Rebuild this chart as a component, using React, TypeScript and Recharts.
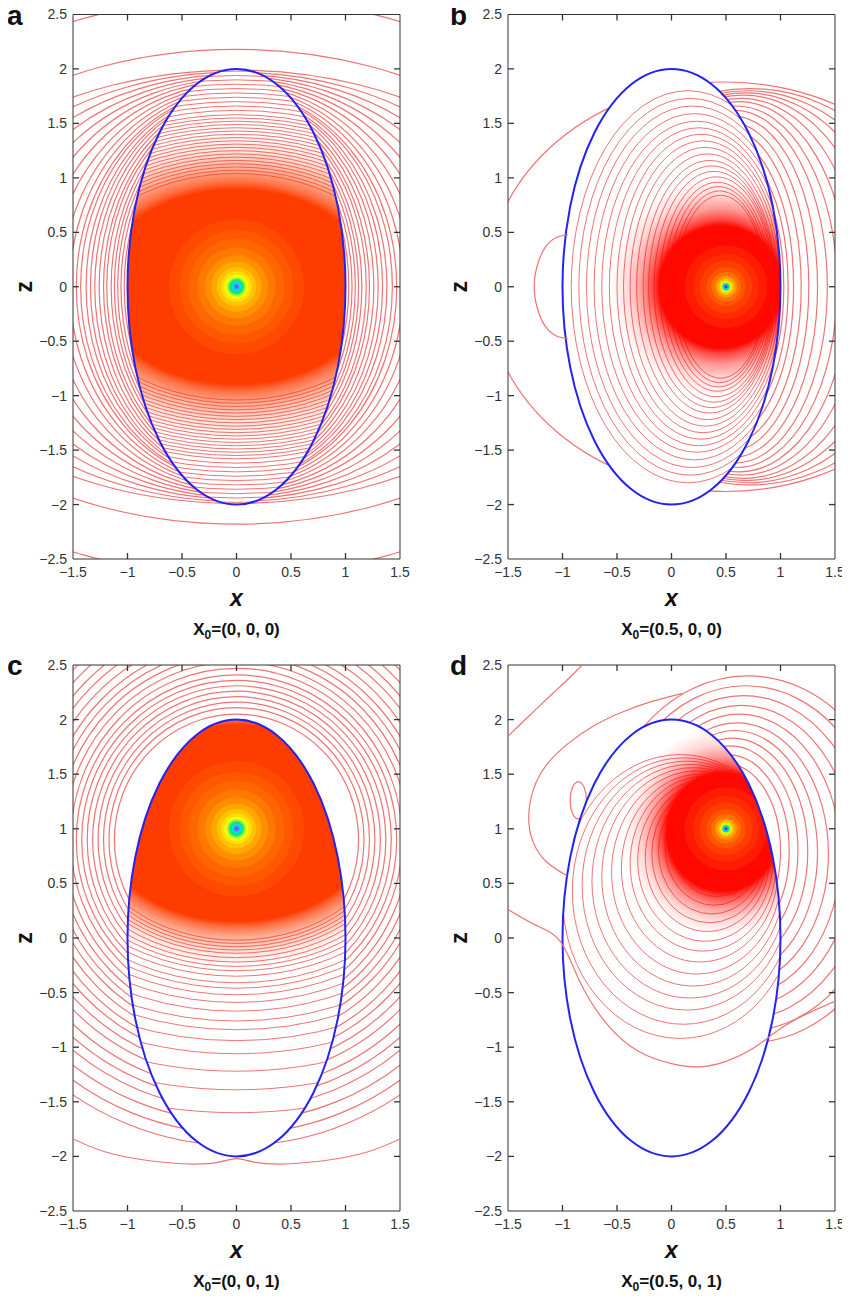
import React from 'react';
import { ScatterChart, Scatter, XAxis, YAxis, ReferenceArea, Label } from 'recharts';

type Quad = [number, number, number, number]; // centre x, centre z, half-width, half-height
type Pair = [number, number];
type Ring = [number, string];
type Pt = [number, number];

const xTicks = [-1.5, -1, -0.5, 0, 0.5, 1, 1.5];
const zTicks = [-2.5, -2, -1.5, -1, -0.5, 0, 0.5, 1, 1.5, 2, 2.5];
const xInnerTicks = [-1, -0.5, 0, 0.5, 1];
const zInnerTicks = [-2, -1.5, -1, -0.5, 0, 0.5, 1, 1.5, 2];
const xDomain: [number, number] = [-1.5, 1.5];
const zDomain: [number, number] = [-2.5, 2.5];

// the inclusion boundary (blue)
const inclusion: Quad = [0, 0, 1, 2];
const plotBox: Quad = [0, 0, 1.5, 2.5];

const sourceA: Pt = [0, 0];
const sourceB: Pt = [0.5, 0];
const sourceC: Pt = [0, 1];
const sourceD: Pt = [0.5, 1];

// ---- panel a : contours outside / inside the inclusion, [rx, rz]
const aOuter: Pair[] = [
  [1.03, 1.55], [1.06, 1.58], [1.09, 1.61], [1.12, 1.63], [1.15, 1.65], [1.19, 1.67], [1.22, 1.69],
  [1.26, 1.71], [1.3, 1.73], [1.34, 1.75], [1.38, 1.76], [1.43, 1.78], [1.47, 1.79], [1.53, 1.81],
  [1.6, 1.83], [1.69, 1.85], [1.8, 1.87], [1.93, 1.89], [2.08, 1.91], [2.26, 1.93], [2.48, 1.95],
  [2.75, 1.97], [3.1, 1.99], [3.3, 2.18], [3.8, 2.65],
];
const aInner: Pair[] = [
  [2.87, 1.98], [2.81, 1.94], [2.76, 1.9], [2.7, 1.86], [2.64, 1.82], [2.58, 1.78], [2.52, 1.74],
  [2.47, 1.7], [2.41, 1.66], [2.35, 1.62], [2.29, 1.58], [2.25, 1.55], [2.2, 1.52], [2.16, 1.49],
  [2.12, 1.46], [2.07, 1.43], [2.03, 1.4], [1.99, 1.37], [1.94, 1.34], [1.9, 1.31], [1.86, 1.28],
  [1.81, 1.25], [1.77, 1.22], [1.73, 1.19], [1.68, 1.16], [1.64, 1.13], [1.6, 1.1], [1.55, 1.07], [1.51, 1.04],
];
const aHalo: Quad = [0, 0, 2.0, 1.42];
const aCore = 0.63; // fraction of the halo that is saturated

// ---- panel c
const cOuterCentre: Pt = [0, 0.9];
const cOuter: Pair[] = [
  [1.12, 1.15], [1.17, 1.21], [1.22, 1.26], [1.27, 1.31], [1.32, 1.36], [1.37, 1.41], [1.42, 1.46],
  [1.47, 1.51], [1.52, 1.57], [1.58, 1.63], [1.64, 1.69], [1.7, 1.75], [1.76, 1.81], [1.83, 1.88],
  [1.9, 1.96], [1.97, 2.03], [2.05, 2.11], [2.13, 2.19], [2.22, 2.29], [2.31, 2.38], [2.4, 2.47],
  [2.5, 2.58], [2.61, 2.69], [2.72, 2.8],
];
const cInner: Pair[] = [
  [3.51, 2.6], [3.23, 2.39], [3.0, 2.22], [2.78, 2.06], [2.62, 1.94], [2.48, 1.84], [2.38, 1.76],
  [2.25, 1.67], [2.15, 1.59], [2.05, 1.52], [1.97, 1.46], [1.9, 1.41], [1.82, 1.35], [1.76, 1.3],
  [1.7, 1.26], [1.65, 1.22], [1.59, 1.18], [1.54, 1.14], [1.5, 1.11], [1.46, 1.08], [1.42, 1.05], [1.38, 1.02],
];
const cHalo: Quad = [0, 1.05, 1.85, 1.32];
const cCore = 0.68;
const cCusp: Pt[] = [
  [-1.5, -1.84], [-1.2, -1.96], [-0.8, -2.04], [-0.4, -2.07], [-0.15, -2.05], [0, -2.02],
  [0.15, -2.05], [0.4, -2.07], [0.8, -2.04], [1.2, -1.96], [1.5, -1.84],
];

// ---- panel b : [cx, cz, rx, rz]
const bOuter: Quad[] = [
  [0.5, 0, 0.53, 1.22], [0.5, 0, 0.57, 1.3], [0.5, 0, 0.62, 1.38], [0.52, 0, 0.67, 1.45], [0.54, 0, 0.72, 1.51],
  [0.56, 0, 0.78, 1.57], [0.58, 0, 0.85, 1.62], [0.6, 0, 0.92, 1.66], [0.62, 0, 1.0, 1.7], [0.64, 0, 1.1, 1.73],
  [0.66, 0, 1.22, 1.76], [0.68, 0, 1.36, 1.78], [0.7, 0, 1.52, 1.8], [0.72, 0, 1.7, 1.82], [0.5, 0, 2.2, 1.88],
];
const bInner: Quad[] = [
  [0.15, 0, 1.07, 1.8], [0.17, 0, 1.02, 1.73], [0.19, 0, 0.97, 1.66], [0.21, 0, 0.92, 1.59], [0.23, 0, 0.87, 1.52],
  [0.25, 0, 0.82, 1.46], [0.27, 0, 0.77, 1.4], [0.29, 0, 0.73, 1.34], [0.31, 0, 0.69, 1.28], [0.33, 0, 0.65, 1.22],
  [0.35, 0, 0.61, 1.16], [0.37, 0, 0.58, 1.11], [0.39, 0, 0.55, 1.06], [0.41, 0, 0.52, 1.01], [0.42, 0, 0.49, 0.96],
  [0.43, 0, 0.46, 0.92], [0.44, 0, 0.43, 0.88], [0.45, 0, 0.41, 0.84],
];
const bHalo: Quad = [0.45, 0, 1.0, 1.0];
const bCore = 0.56;
const bLoop: Pt[] = [
  [-0.95, 0.48], [-1.06, 0.45], [-1.16, 0.36], [-1.23, 0.2], [-1.26, 0], [-1.23, -0.2], [-1.16, -0.36], [-1.06, -0.45], [-0.95, -0.48],
];

// ---- panel d
const dOuter: Quad[] = [
  [0.5, 0.8, 0.5, 0.8], [0.52, 0.8, 0.56, 0.88], [0.54, 0.8, 0.62, 0.96], [0.56, 0.79, 0.69, 1.04],
  [0.58, 0.78, 0.76, 1.12], [0.6, 0.77, 0.84, 1.2], [0.62, 0.76, 0.93, 1.29], [0.64, 0.75, 1.03, 1.38],
  [0.66, 0.74, 1.14, 1.48], [0.68, 0.73, 1.26, 1.58], [0.7, 0.72, 1.38, 1.68], [-0.855, 1.26, 0.075, 0.17],
];
const dInner: Quad[] = [
  [0.08, 0.38, 1.08, 1.3], [0.11, 0.43, 1.02, 1.22], [0.14, 0.48, 0.96, 1.14], [0.17, 0.52, 0.9, 1.07],
  [0.2, 0.56, 0.84, 1.0], [0.23, 0.6, 0.78, 0.93], [0.26, 0.64, 0.72, 0.86], [0.29, 0.68, 0.67, 0.8],
  [0.31, 0.71, 0.62, 0.74], [0.33, 0.74, 0.57, 0.68], [0.35, 0.77, 0.53, 0.63], [0.37, 0.8, 0.49, 0.58],
  [0.39, 0.83, 0.45, 0.53], [0.41, 0.86, 0.41, 0.48],
];
const dHalo: Quad = [0.47, 0.97, 0.9, 0.95];
const dCore = 0.57;
const dLoop: Pt[] = [
  [-0.96, 0.57], [-1.15, 0.7], [-1.27, 0.88], [-1.31, 1.1], [-1.27, 1.35], [-1.15, 1.58], [-0.95, 1.78],
  [-0.7, 1.95], [-0.45, 2.07], [-0.2, 2.16], [0.1, 2.24],
];
const dCorner: Pt[] = [[-1.5, 1.85], [-1.3, 2.04], [-1.1, 2.23], [-0.95, 2.37], [-0.82, 2.5]];
const dLower: Pt[] = [
  [-1.5, 0.26], [-1.25, 0.12], [-1.02, -0.03], [-0.85, -0.38], [-0.6, -0.78], [-0.3, -1.04], [0.0, -1.15],
  [0.25, -1.18], [0.5, -1.13], [0.75, -1.01], [0.93, -0.88], [1.15, -0.74], [1.5, -0.58],
];

// colour rings around the source
const warmRings: Ring[] = [
  [0.62, '#ff4a00'], [0.52, '#ff5800'], [0.44, '#ff6600'], [0.36, '#ff7800'], [0.29, '#ff8e00'],
  [0.23, '#ffa800'], [0.18, '#ffc400'], [0.14, '#ffe000'], [0.11, '#f4ff10'], [0.09, '#a8ff30'],
  [0.075, '#38f050'], [0.06, '#00e090'], [0.045, '#00e4e4'], [0.03, '#3c9cff'], [0.014, '#c828c8'],
];
const redRings: Ring[] = [
  [0.38, '#ff1c00'], [0.3, '#ff2c00'], [0.24, '#ff3e00'], [0.18, '#ff5400'], [0.135, '#ff7000'],
  [0.1, '#ff9800'], [0.075, '#ffc400'], [0.055, '#ffee00'], [0.042, '#90ff40'], [0.032, '#00e0a0'],
  [0.022, '#00b8ff'], [0.012, '#b000c0'],
];

const around = (c: Pt, list: Pair[]): Quad[] => list.map(([rx, rz]) => [c[0], c[1], rx, rz] as Quad);

interface PanelSpec {
  id: string; letter: string; caption: string; col: number; row: number;
  outer: Quad[]; inner: Quad[]; halo: Quad; core: number; fill: string;
  source: Pt; rings: Ring[]; lines: Pt[][];
}

const panels: PanelSpec[] = [
  { id: 'pa', letter: 'a', caption: '=(0, 0, 0)', col: 0, row: 0, outer: around(sourceA, aOuter), inner: around(sourceA, aInner),
    halo: aHalo, core: aCore, fill: '#ff3c00', source: sourceA, rings: warmRings, lines: [] },
  { id: 'pb', letter: 'b', caption: '=(0.5, 0, 0)', col: 1, row: 0, outer: bOuter, inner: bInner,
    halo: bHalo, core: bCore, fill: '#ff0800', source: sourceB, rings: redRings, lines: [bLoop] },
  { id: 'pc', letter: 'c', caption: '=(0, 0, 1)', col: 0, row: 1, outer: around(cOuterCentre, cOuter), inner: around(sourceC, cInner),
    halo: cHalo, core: cCore, fill: '#ff3c00', source: sourceC, rings: warmRings, lines: [cCusp] },
  { id: 'pd', letter: 'd', caption: '=(0.5, 0, 1)', col: 1, row: 1, outer: dOuter, inner: dInner,
    halo: dHalo, core: dCore, fill: '#ff0800', source: sourceD, rings: redRings, lines: [dLoop, dCorner, dLower] },
];

const RED_LINE = '#f07373';
const BLUE = '#2222f2';
const AXIS = '#333';
const FONT = '"Liberation Sans", Arial, Helvetica, sans-serif';
const tickStyle = { fill: '#333', fontSize: 14, fontFamily: FONT };
const fmt = (v: number) => (v < 0 ? '\u2212' + Math.abs(v) : String(v));
const TICK_PX = 6;

// tick positions along each edge of the box
const bottomTicks = xInnerTicks.map((v) => ({ x: v, z: zDomain[0] }));
const topTicks = xInnerTicks.map((v) => ({ x: v, z: zDomain[1] }));
const leftTicks = zInnerTicks.map((v) => ({ x: xDomain[0], z: v }));
const rightTicks = zInnerTicks.map((v) => ({ x: xDomain[1], z: v }));

const oval = (p: any, extra: any) => (
  <ellipse cx={p.x + p.width / 2} cy={p.y + p.height / 2} rx={Math.abs(p.width) / 2} ry={Math.abs(p.height) / 2} {...extra} />
);
const tickMark = (dx: number, dy: number) => (p: any) => (
  <line x1={p.cx} y1={p.cy} x2={p.cx + dx * TICK_PX} y2={p.cy + dy * TICK_PX} stroke={AXIS} strokeWidth={1.3} />
);

function Panel({ spec }: { spec: PanelSpec }) {
  const { id, col, row } = spec;
  const height = row === 0 ? 648 : 652;
  const margin = { top: row === 0 ? 14.5 : 15, bottom: row === 0 ? 59 : 61, left: col === 0 ? 33 : 43, right: col === 0 ? 25 : 15 };
  const plotClip = `url(#${id}-plot)`;
  const inClip = `url(#${id}-in)`;
  const lineStyle = { fill: 'none', stroke: RED_LINE, strokeWidth: 1.2 };
  const oArea = (key: string, q: Quad, render: (p: any) => React.ReactElement) => (
    <ReferenceArea key={key} x1={q[0] - q[2]} x2={q[0] + q[2]} y1={q[1] - q[3]} y2={q[1] + q[3]} ifOverflow="visible" shape={render} />
  );
  const c = spec.core;
  const gid = `${id}-grad`;
  const xTitle = (lp: any) => {
    const vb = lp.viewBox || { x: margin.left + 40, y: height - margin.bottom - 30, width: 327, height: 30 };
    const cx = vb.x + vb.width / 2;
    return (
      <g fontFamily={FONT} fill="#111" fontWeight="bold">
        <text x={cx} y={vb.y + 47} textAnchor="middle" fontSize={23} fontStyle="italic">x</text>
        <text x={cx} y={vb.y + 76} textAnchor="middle" fontSize={17}>
          X<tspan fontSize={12} dy={4}>0</tspan><tspan dy={-4}>{spec.caption}</tspan>
        </text>
      </g>
    );
  };
  const zTitle = (lp: any) => {
    const vb = lp.viewBox || { x: margin.left, y: margin.top, width: 40, height: 545 };
    const x = vb.x - 9;
    const y = vb.y + vb.height / 2;
    return (
      <text x={x} y={y} transform={`rotate(-90, ${x}, ${y})`} textAnchor="middle" dominantBaseline="central"
        fontFamily={FONT} fontSize={23} fontWeight="bold" fill="#111">z</text>
    );
  };

  return (
    <div style={{ position: 'absolute', left: col * 425, top: row === 0 ? 0 : 650 }}>
      <div style={{ position: 'absolute', left: col === 0 ? 7 : 25, top: 2, font: `bold 28px ${FONT}`, lineHeight: 1, color: '#111' }}>
        {spec.letter}
      </div>
      <ScatterChart width={425} height={height} margin={margin}>
        <XAxis dataKey="x" type="number" domain={xDomain} ticks={xTicks} allowDataOverflow tickFormatter={fmt}
          tickLine={false} tickSize={0} tickMargin={8} height={30} axisLine={{ stroke: AXIS }} tick={tickStyle}>
          <Label content={xTitle} />
        </XAxis>
        <XAxis xAxisId="top" dataKey="x" type="number" domain={xDomain} ticks={xTicks} allowDataOverflow orientation="top"
          mirror tickLine={false} tick={false} axisLine={{ stroke: AXIS }} />
        <YAxis dataKey="z" type="number" domain={zDomain} ticks={zTicks} allowDataOverflow tickFormatter={fmt}
          tickLine={false} tickSize={0} tickMargin={6} width={40} axisLine={{ stroke: AXIS }} tick={tickStyle}>
          <Label content={zTitle} />
        </YAxis>
        <YAxis yAxisId="right" dataKey="z" type="number" domain={zDomain} ticks={zTicks} allowDataOverflow orientation="right"
          mirror tickLine={false} tick={false} axisLine={{ stroke: AXIS }} />

        {oArea(`${id}-frame`, plotBox, (p) => (
          <defs>
            <clipPath id={`${id}-plot`}>
              <rect x={p.x} y={p.y} width={p.width} height={p.height} />
            </clipPath>
          </defs>
        ))}
        {spec.outer.map((q, i) => oArea(`${id}-o${i}`, q, (p) => oval(p, { ...lineStyle, clipPath: plotClip })))}
        {oArea(`${id}-hole`, inclusion, (p) => (
          <g>
            <defs>
              <clipPath id={`${id}-in`}>{oval(p, {})}</clipPath>
            </defs>
            {oval(p, { fill: '#fff', stroke: 'none' })}
          </g>
        ))}
        {spec.inner.map((q, i) => oArea(`${id}-i${i}`, q, (p) => oval(p, { ...lineStyle, strokeWidth: 1, clipPath: inClip })))}
        {oArea(`${id}-halo`, spec.halo, (p) => (
          <g>
            <defs>
              <radialGradient id={gid} cx="50%" cy="50%" r="50%">
                <stop offset={c} stopColor={spec.fill} stopOpacity={1} />
                <stop offset={c + (1 - c) * 0.12} stopColor={spec.fill} stopOpacity={0.75} />
                <stop offset={c + (1 - c) * 0.35} stopColor={spec.fill} stopOpacity={0.42} />
                <stop offset={c + (1 - c) * 0.65} stopColor={spec.fill} stopOpacity={0.15} />
                <stop offset={1} stopColor={spec.fill} stopOpacity={0} />
              </radialGradient>
            </defs>
            {oval(p, { fill: `url(#${gid})`, stroke: 'none', clipPath: inClip })}
          </g>
        ))}
        {spec.rings.map(([r, col2], i) =>
          oArea(`${id}-r${i}`, [spec.source[0], spec.source[1], r, r], (p) => oval(p, { fill: col2, stroke: 'none', clipPath: inClip })))}
        {oArea(`${id}-edge`, inclusion, (p) => oval(p, { fill: 'none', stroke: BLUE, strokeWidth: 2 }))}

        {spec.lines.map((pts, i) => (
          <Scatter key={`${id}-l${i}`} data={pts.map(([x, z]) => ({ x, z }))} line={{ stroke: RED_LINE, strokeWidth: 1.2 }}
            lineJointType="natural" shape={() => <g />} isAnimationActive={false} />
        ))}

        <Scatter data={bottomTicks} shape={tickMark(0, -1)} isAnimationActive={false} />
        <Scatter data={topTicks} shape={tickMark(0, 1)} isAnimationActive={false} />
        <Scatter data={leftTicks} shape={tickMark(1, 0)} isAnimationActive={false} />
        <Scatter data={rightTicks} shape={tickMark(-1, 0)} isAnimationActive={false} />
      </ScatterChart>
    </div>
  );
}

export default function App() {
  return (
    <div style={{ position: 'relative', width: 850, height: 1302, margin: '-8px 0 0 -8px', background: '#fff', overflow: 'hidden' }}>
      {panels.map((s) => (
        <Panel key={s.id} spec={s} />
      ))}
    </div>
  );
}
